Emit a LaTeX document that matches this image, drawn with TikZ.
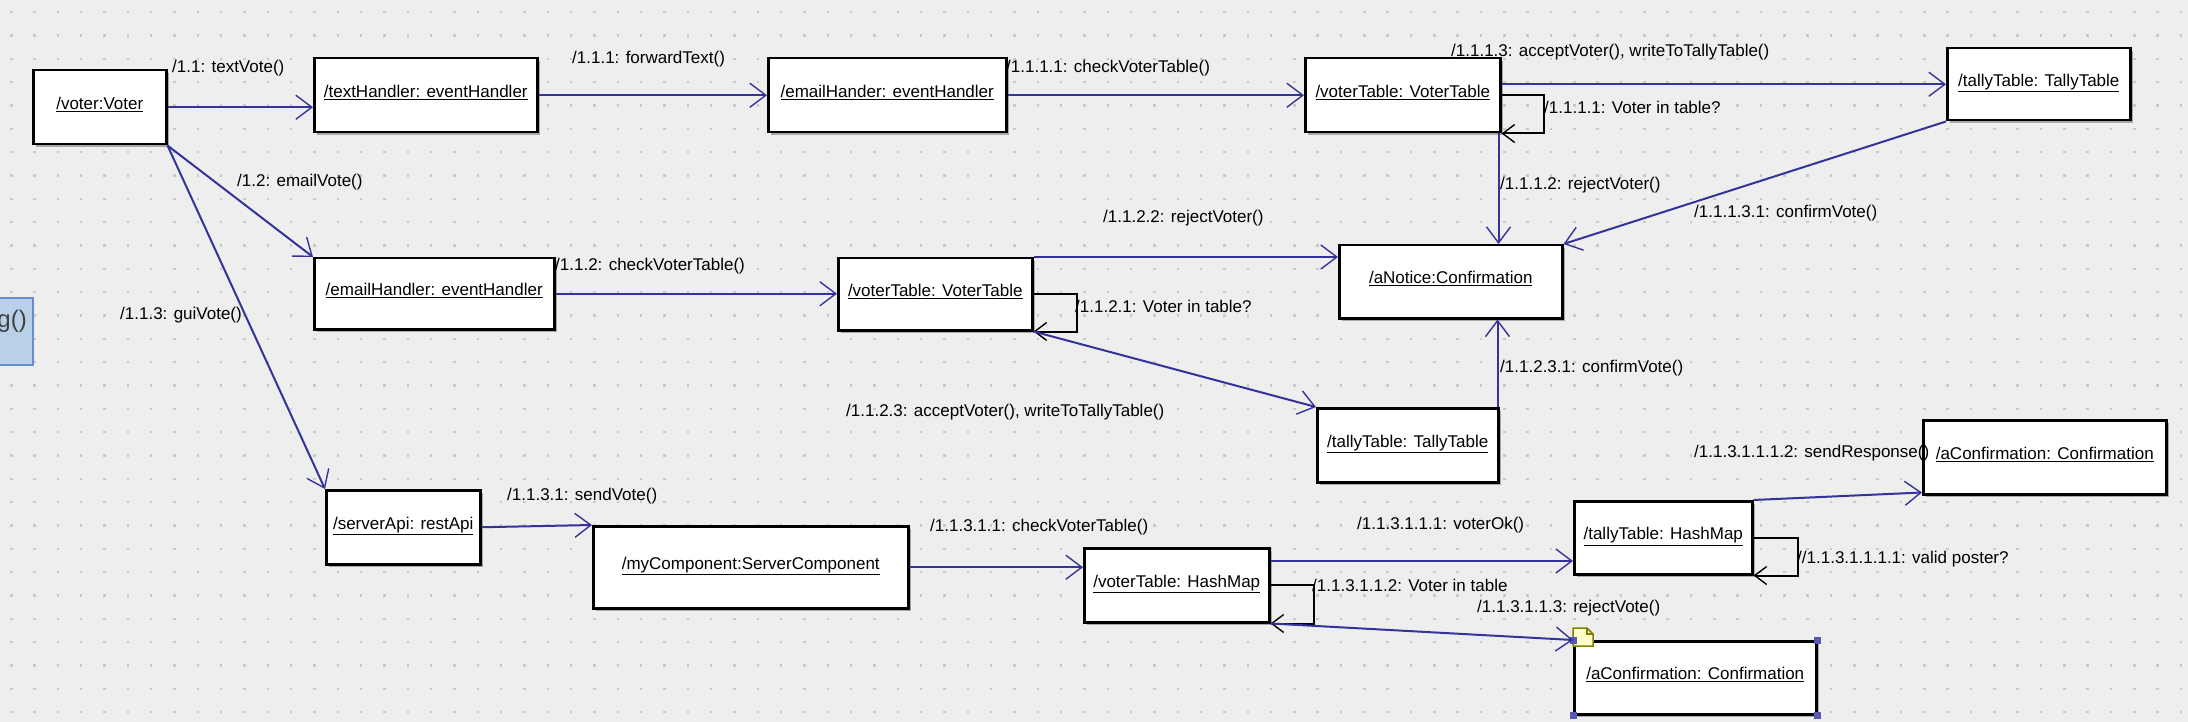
\documentclass[tikz,border=0pt]{standalone}
\usepackage{fontspec}
\setmainfont{Liberation Sans}
\usetikzlibrary{positioning, arrows.meta, calc, shadows}

\definecolor{canvasgray}{HTML}{EEEEEE}
\definecolor{gridgray}{HTML}{C9C9C9}
\definecolor{linkblue}{HTML}{333399}
\definecolor{shadegray}{HTML}{A8A8A8}
\definecolor{noteyellow}{HTML}{FFFFC8}
\definecolor{noteolive}{HTML}{808000}
\definecolor{handleblue}{HTML}{5858B0}
\definecolor{tipfill}{HTML}{B9D0E9}
\definecolor{tipedge}{HTML}{6A8BD0}

\newcommand{\umlfont}{\fontsize{17}{20}\selectfont}

\begin{document}
\begin{tikzpicture}[
    x=1pt, y=-1pt,
    obj/.style 2 args={
        rectangle,
        draw=black,
        line width=2.5pt,
        fill=white,
        anchor=north west,
        inner sep=0pt,
        text depth=8pt,
        minimum width=#1pt,
        minimum height=#2pt,
        font=\umlfont,
        drop shadow={shadow xshift=3pt, shadow yshift=-3pt, fill=shadegray, opacity=1}
    },
    msg/.style={
        draw=linkblue,
        line width=2pt,
        -{Straight Barb[length=16pt, width=24pt, line width=1.4pt]}
    },
    selfmsg/.style={
        draw=black,
        line width=2pt,
        -{Straight Barb[length=12pt, width=18pt, line width=1.4pt]}
    },
    lbl/.style={
        anchor=west,
        inner sep=0pt,
        font=\umlfont
    }
]

    \useasboundingbox (0,0) rectangle (2188,722);
    \fill[canvasgray] (0,0) rectangle (2188,722);

    % dotted grid of the editor
    \foreach \i in {0,...,93}
        \foreach \j in {0,...,30}
            \fill[gridgray] ({10+23.33*\i},{11+23.33*\j}) rectangle ++(2.5,2.5);

    % tooltip cut off at the left edge
    \draw[tipedge, fill=tipfill, line width=2.5pt] (-5,298) rectangle (33,365);
    \node[anchor=east, inner sep=0pt, font=\fontsize{24}{26}\selectfont, text=black!75] (gtip) at (27,321) {g()};

    % label partly hidden by the box below it
    \node[lbl] (l4) at (1451,52) {/1.1.1.3: acceptVoter(), writeToTallyTable()};

    % -- Objects --
    \node[obj={133}{74}] (voter) at (32,69) {\underline{/voter:Voter}};
    \node[obj={223}{74}] (textH) at (313,57) {\underline{/textHandler: eventHandler}};
    \node[obj={238}{74}] (emailH1) at (767,57) {\underline{/emailHander: eventHandler}};
    \node[obj={195}{74}] (vtTop) at (1304,57) {\underline{/voterTable: VoterTable}};
    \node[obj={183}{72}] (ttTop) at (1946,47) {\underline{/tallyTable: TallyTable}};

    \node[obj={240}{71}] (emailH2) at (313,257) {\underline{/emailHandler: eventHandler}};
    \node[obj={194}{72}] (vtMid) at (837,257) {\underline{/voterTable: VoterTable}};
    \node[obj={223}{73}] (notice) at (1338,244) {\underline{/aNotice:Confirmation}};
    \node[obj={181}{74}] (ttMid) at (1316,407) {\underline{/tallyTable: TallyTable}};

    \node[obj={154}{74}] (server) at (325,489) {\underline{/serverApi: restApi}};
    \node[obj={315}{82}] (comp) at (592,525) {\underline{/myComponent:ServerComponent}};
    \node[obj={185}{74}] (vtHash) at (1083,547) {\underline{/voterTable: HashMap}};
    \node[obj={178}{73}] (ttHash) at (1573,500) {\underline{/tallyTable: HashMap}};
    \node[obj={243}{74}] (confTop) at (1922,419) {\underline{/aConfirmation: Confirmation}};
    \node[obj={242}{73}] (confBot) at (1573,640) {\underline{/aConfirmation: Confirmation}};

    % selection marks on the last object
    \draw[noteolive, fill=noteyellow, line width=1.5pt]
        (1573,646) -- (1573,628) -- (1587,628) -- (1593,634) -- (1593,646) -- cycle;
    \draw[noteolive, line width=1.2pt] (1587,628) -- (1587,634) -- (1593,634);
    \foreach \c in {north west, north east, south west, south east}
        \fill[handleblue] ($(confBot.\c)+(-3.5,-3.5)$) rectangle ++(7,7);

    % -- Messages --
    \draw[msg] (voter.east) -- (voter.east -| textH.west);
    \draw[msg] (textH.east) -- (emailH1.west);
    \draw[msg] (emailH1.east) -- (vtTop.west);
    \draw[msg] (vtTop.east |- ttTop.west) -- (ttTop.west);
    \draw[selfmsg] (vtTop.east) -- ++(42,0) |- (vtTop.south east);
    \coordinate (rejTop) at ($(vtTop.south east)+(-3,0)$);
    \draw[msg] (rejTop) -- (rejTop |- notice.north);
    \draw[msg] (ttTop.south west) -- (notice.north east);

    \draw[msg] (voter.south east) -- (emailH2.north west);
    \draw[msg] (voter.south east) -- (server.north west);
    \draw[msg] (emailH2.east) -- (emailH2.east -| vtMid.west);
    \draw[msg] (vtMid.north east) -- (vtMid.north east -| notice.west);
    \draw[selfmsg] (vtMid.east) -- ++(43,0) |- (vtMid.south east);
    \draw[msg] (vtMid.south east) -- (ttMid.north west);
    \coordinate (confMid) at ($(ttMid.north east)+(-2,0)$);
    \draw[msg] (confMid) -- (confMid |- notice.south);

    \draw[msg] (server.east) -- (comp.north west);
    \draw[msg] (comp.east) -- (comp.east -| vtHash.west);
    \coordinate (okOut) at ($(vtHash.north east)+(0,14)$);
    \draw[msg] (okOut) -- (okOut -| ttHash.west);
    \draw[selfmsg] (vtHash.east) -- ++(43,0) |- (vtHash.south east);
    \draw[msg] (vtHash.south east) -- (confBot.north west);
    \draw[msg] (ttHash.north east) -- ($(confTop.south west)+(0,-3)$);
    \draw[selfmsg] (ttHash.east) -- ++(44,0) |- (ttHash.south east);

    % -- Message labels --
    \node[lbl] (l1) at (172,68) {/1.1: textVote()};
    \node[lbl] (l2) at (572,59) {/1.1.1: forwardText()};
    \node[lbl] (l3) at (1006,68) {/1.1.1.1: checkVoterTable()};
    \node[lbl] (l5) at (1544,107) {/1.1.1.1: Voter in table?};
    \node[lbl] (l6) at (1500,185) {/1.1.1.2: rejectVoter()};
    \node[lbl] (l7) at (1694,213) {/1.1.1.3.1: confirmVote()};
    \node[lbl] (l8) at (237,182) {/1.2: emailVote()};
    \node[lbl] (l9) at (555,266) {/1.1.2: checkVoterTable()};
    \node[lbl] (l10) at (1103,218) {/1.1.2.2: rejectVoter()};
    \node[lbl] (l11) at (1075,306) {/1.1.2.1: Voter in table?};
    \node[lbl] (l12) at (120,315) {/1.1.3: guiVote()};
    \node[lbl] (l13) at (846,412) {/1.1.2.3: acceptVoter(), writeToTallyTable()};
    \node[lbl] (l14) at (1500,368) {/1.1.2.3.1: confirmVote()};
    \node[lbl] (l15) at (1694,453) {/1.1.3.1.1.1.2: sendResponse()};
    \node[lbl] (l16) at (507,496) {/1.1.3.1: sendVote()};
    \node[lbl] (l17) at (930,527) {/1.1.3.1.1: checkVoterTable()};
    \node[lbl] (l18) at (1357,525) {/1.1.3.1.1.1: voterOk()};
    \node[lbl] (l19) at (1312,585) {/1.1.3.1.1.2: Voter in table};
    \node[lbl] (l20) at (1477,608) {/1.1.3.1.1.3: rejectVote()};
    \node[lbl] (l21) at (1797,559) {//1.1.3.1.1.1.1: valid poster?};

\end{tikzpicture}
\end{document}
